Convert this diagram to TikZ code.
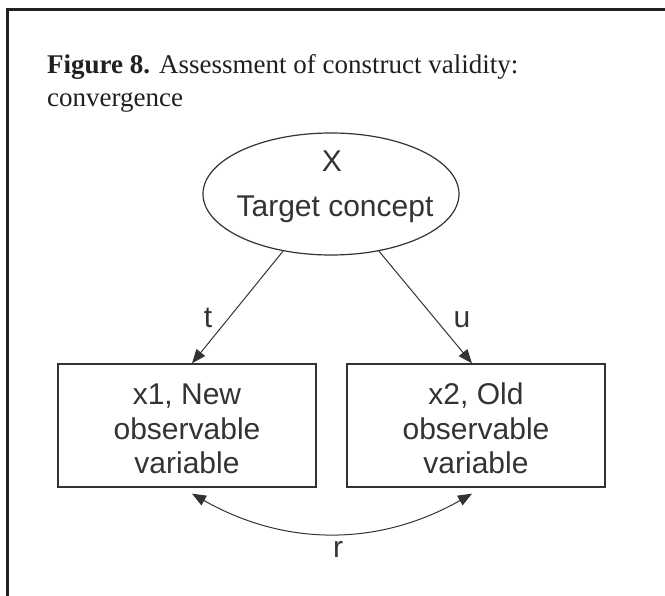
\documentclass[tikz,border=0pt]{standalone}
\usepackage{fontspec}
\setmainfont{Liberation Serif}
\newfontfamily\diagfont{Liberation Sans}
\usetikzlibrary{arrows.meta,shapes.geometric,calc}
\definecolor{ink}{HTML}{231F20}
\definecolor{dline}{HTML}{333333}
\begin{document}
\begin{tikzpicture}[x=1pt,y=-1pt,
  frameline/.style={draw=ink, line width=3pt},
  titletext/.style={anchor=base west, inner sep=0pt, text=ink, font=\fontsize{27}{33}\selectfont},
  varbox/.style={draw=dline, line width=1.3pt, minimum width=258pt, minimum height=123pt,
    inner sep=0pt, align=center, text=dline, font=\diagfont\fontsize{30}{34.5}\selectfont},
  latent/.style={draw=dline, ellipse, line width=1.2pt, minimum width=256pt, minimum height=122pt, inner sep=0pt},
  difftext/.style={inner sep=0pt, text=dline, font=\diagfont\fontsize{30}{34}\selectfont},
  link/.style={draw=dline, line width=1pt, -{Triangle[length=14pt,width=11pt]}},
  biarrow/.style={draw=dline, line width=1pt, {Triangle[length=14pt,width=11pt]}-{Triangle[length=14pt,width=11pt]}}
]
\useasboundingbox (0,0) rectangle (665,596);
\fill[white] (0,0) rectangle (665,596);
% frame
\coordinate (fbl) at (7,598);
\coordinate (ftl) at (7,10);
\coordinate (ftr) at (667,10);
\draw[frameline] (fbl) -- (ftl) -- (ftr);
% title
\node[titletext] (title1) at (47,74) {\textbf{Figure 8.} Assessment of construct validity:};
\node[titletext] (title2) at (47,107) {convergence};
% latent variable
\node[latent] (lat) at (331,194) {};
\node[difftext, anchor=base] (latx) at (332,172) {X};
\node[difftext, anchor=base] (latt) at (335,217) {Target concept};
% observed variables
\node[varbox] (lb) at (187,425.5) {\rule{0pt}{27.5pt}x1, New\\observable\\variable};
\node[varbox] (rb) at (476,425.5) {\rule{0pt}{27.5pt}x2, Old\\observable\\variable};
% paths
\draw[link] (lat.230) -- ($(lb.north)+(5,0)$);
\draw[link] (lat.310) -- ($(rb.north)+(-4,0)$);
\node[difftext, anchor=base] (tl) at (208,328) {t};
\node[difftext, anchor=base] (ul) at (462,328) {u};
% covariance
\draw[biarrow] ($(lb.south)+(5,6)$) .. controls +(93,53) and +(-93,53) .. ($(rb.south)+(-4,6)$)
  node[difftext, pos=0.5, anchor=north, yshift=-7pt, xshift=6pt] (rl) {r};
\end{tikzpicture}
\end{document}
